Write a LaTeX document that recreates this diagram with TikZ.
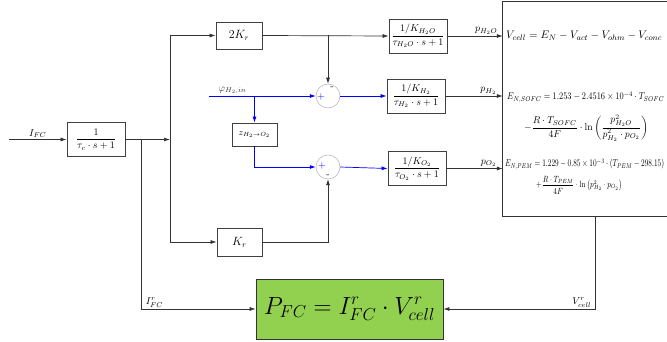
\documentclass[tikz,border=0pt]{standalone}
\usepackage{amsmath}
\usetikzlibrary{arrows.meta, calc, positioning}
\definecolor{pfcgreen}{RGB}{146,208,80}

\begin{document}
\begin{tikzpicture}[x=1pt, y=-1pt,
    blk/.style={draw=black!75, line width=0.8pt, align=center, font=\normalsize,
                inner sep=1pt, minimum width=58pt, minimum height=34pt},
    gain/.style={blk, font=\large, minimum width=46pt, minimum height=27pt},
    sumj/.style={circle, draw=black!30, line width=0.5pt, minimum size=24pt, inner sep=0pt},
    sgn/.style={font=\normalsize, inner sep=0pt},
    sig/.style={font=\normalsize, inner sep=1.5pt},
    eqn/.style={anchor=west, inner sep=0pt, font=\normalsize},
    flow/.style={->, >={Latex[length=6pt,width=4pt]}, line width=0.7pt, draw=black!80},
    bflow/.style={flow, draw=blue},
]
\useasboundingbox (0,0) rectangle (667,342);
% blocks
\node[blk] (lag) at (96,139.5) {$\dfrac{1}{\tau_c\cdot s+1}$};
\node[gain] (k2r) at (239,35.5) {$2K_r$};
\node[gain, minimum width=45pt, minimum height=28pt] (kr) at (239.5,242) {$K_r$};
\node[blk] (ph2o) at (418,36) {$\dfrac{1/K_{H_2O}}{\tau_{H_2O}\cdot s+1}$};
\node[blk] (ph2) at (416,96) {$\dfrac{1/K_{H_2}}{\tau_{H_2}\cdot s+1}$};
\node[blk] (po2) at (417,168.5) {$\dfrac{1/K_{O_2}}{\tau_{O_2}\cdot s+1}$};
\node[blk, font=\small, minimum width=45pt, minimum height=23pt] (zho) at (254.5,134.5) {$z_{H_2\rightarrow O_2}$};
\node[sumj] (s1) at (328,96) {};
\node[sumj] (s2) at (328,167) {};
\node[sgn, text=blue] (s1p) at (321,97) {$+$};
\node[sgn] (s1m) at (332,88) {-};
\node[sgn, text=blue] (s2p) at (322,166) {$+$};
\node[sgn] (s2m) at (328,176) {-};
% cell voltage block
\node[minimum width=167pt, minimum height=214pt, inner sep=0pt] (cell) at (586.5,109) {};
\draw[line width=0.8pt, black!80] (cell.north east) -- (cell.north west) -- (cell.south west) -- (cell.south east);
\node[eqn, font=\fontsize{11}{13}\selectfont] (vcell) at (506,36) {$V_{cell}=E_N-V_{act}-V_{ohm}-V_{conc}$};
\node[eqn] (esofc) at (507,97) {\resizebox{157pt}{\height}{$E_{N,SOFC}=1.253-2.4516\times10^{-4}\cdot T_{SOFC}$}};
\node[eqn] (esofc2) at (524,128) {\resizebox{124pt}{\height}{$-\dfrac{R\cdot T_{SOFC}}{4F}\cdot\ln\left(\dfrac{p^2_{H_2O}}{p^2_{H_2}\cdot p_{O_2}}\right)$}};
\node[eqn] (epem) at (505,164) {\resizebox{159pt}{\height}{$E_{N,PEM}=1.229-0.85\times10^{-3}\cdot(T_{PEM}-298.15)$}};
\node[eqn, font=\small] (epem2) at (536,185) {\resizebox{86pt}{\height}{$+\dfrac{R\cdot T_{PEM}}{4F}\cdot\ln\left(p^2_{H_2}\cdot p_{O_2}\right)$}};
% power
\node[draw=black!80, line width=0.8pt, fill=pfcgreen, minimum width=187pt, minimum height=60pt,
      font=\fontsize{25}{28}\selectfont] (pfc) at (349.5,309) {$P_{FC}=I^r_{FC}\cdot V^r_{cell}$};
% connections
\coordinate (ifc) at (9,139.5);
\coordinate (jn) at (170,139.5);
\coordinate (brI) at (141,139.5);
\coordinate (phi) at (209,96);
\coordinate (vout) at (595,216);
\draw[flow] (ifc) -- (lag.west) node[sig, above, midway] {$I_{FC}$};
\draw[flow] (lag.east) -- (jn);
\draw[flow] (jn) |- (k2r.west);
\draw[flow] (jn) |- (kr.west);
\draw[flow] (k2r.east) -- (ph2o.west);
\draw[flow] (s1 |- k2r.east) -- (s1.north);
\draw[bflow] (phi) -- (s1.west) node[sig, above, pos=0.22, text=black!80] {$\varphi_{H_2,in}$};
\draw[bflow] (zho.north |- phi) -- (zho.north);
\draw[bflow] (s1.east) -- (ph2.west);
\draw[bflow] (zho.south) |- (s2.west);
\draw[bflow] (s2.east) -- (po2.west);
\draw[flow] (kr.east) -| (s2.south);
\draw[flow] (ph2o.east) -- (ph2o.east -| cell.west) node[sig, above, pos=0.7] {$p_{H_2O}$};
\draw[flow] (ph2.east) -- (ph2.east -| cell.west) node[sig, above, pos=0.75] {$p_{H_2}$};
\draw[flow] (po2.east) -- (po2.east -| cell.west) node[sig, above, pos=0.75] {$p_{O_2}$};
\draw[flow] (brI) |- (pfc.west) node[sig, above right, pos=0.5, xshift=3pt] {$I^r_{FC}$};
\draw[flow] (vout) |- (pfc.east) node[sig, above left, pos=0.5, xshift=-2pt] {$V^r_{cell}$};
\end{tikzpicture}
\end{document}
